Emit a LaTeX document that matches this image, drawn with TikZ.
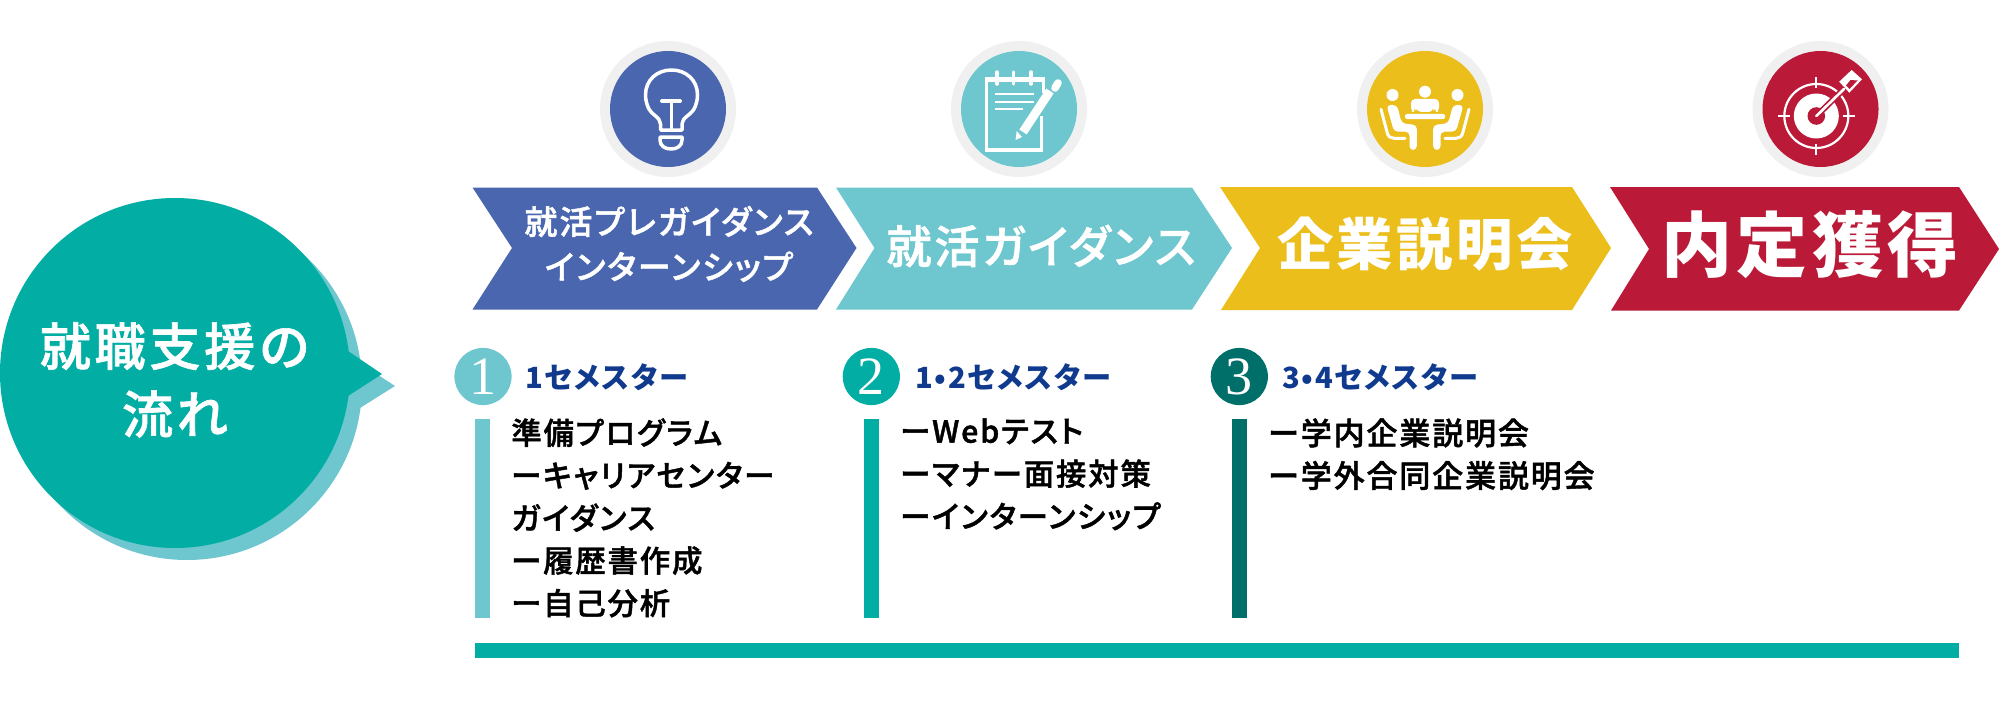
\documentclass[tikz,border=0pt]{standalone}
\usepackage{fontspec}
\usetikzlibrary{positioning}
\setmainfont{Noto Sans CJK JP}
\newfontfamily\jpwide[LetterSpace=6,RawFeature=+palt]{Noto Sans CJK JP}
\newfontfamily\jpmedium[LetterSpace=6,RawFeature=+palt,FakeBold=1.4]{Noto Sans CJK JP Medium}
\newfontfamily\jptitle[LetterSpace=7,FakeBold=1.2]{Noto Sans CJK JP Medium}
\newfontfamily\numfont{Liberation Serif}
\definecolor{bluefill}{HTML}{4A66AF}
\definecolor{skyfill}{HTML}{6EC6CE}
\definecolor{yellowfill}{HTML}{EBBE1C}
\definecolor{redfill}{HTML}{BA1A37}
\definecolor{tealfill}{HTML}{02AEA4}
\definecolor{darkteal}{HTML}{006E69}
\definecolor{ringgray}{HTML}{F0F0F0}
\definecolor{navytext}{HTML}{0F3A8D}
\tikzset{
  ring/.style={circle, fill=ringgray, minimum size=68pt, inner sep=0pt},
  disc/.style={circle, minimum size=58pt, inner sep=0pt},
  chevtext/.style={text=white, align=center, inner sep=0pt},
  badge/.style={circle, text=white, minimum size=28.6pt, inner sep=0pt, font=\numfont\fontsize{27}{27}\selectfont},
  semester/.style={text=navytext, anchor=west, inner sep=0pt, font=\jpwide\bfseries\fontsize{14.6}{14.6}\selectfont},
  itemlist/.style={anchor=north west, align=left, inner sep=0pt, font=\jpmedium\fontsize{15.2}{21.3}\selectfont},
  iconline/.style={draw=white, line width=1.75pt},
  thinline/.style={draw=white, line width=1.1pt}
}
\newcommand{\seated}{
  \fill[white] (1392.5,95) circle (6);
  \fill[white, rounded corners=2pt] (1386.5,105) -- (1397,105) -- (1401.7,123.3) -- (1416.8,125) -- (1416.8,150) -- (1409.5,150) -- (1409.5,131.7) -- (1394,131.7) -- cycle;
  \draw[thinline, line width=1.5pt, line cap=round] (1381,109.3) -- (1387,132) .. controls (1388,137) and (1391,138.3) .. (1394,138.3) -- (1405,138.3);
}
\begin{document}
\begin{tikzpicture}[x=0.5pt, y=-0.5pt]
\useasboundingbox (0,0) rectangle (2000,717);
\fill[skyfill] (187,385) circle (175);
\fill[skyfill] (360,363) -- (395,386) -- (360,408) -- cycle;
\fill[tealfill] (175,373) circle (175);
\fill[tealfill] (348,351) -- (382,374) -- (348,396) -- cycle;
\node[text=white, align=center, inner sep=0pt, font=\jptitle\fontsize{25.6}{34}\selectfont] (flow) at (175,380) {就職支援の\\流れ};

\node[ring] (ring1) at (668,109) {};
\node[ring] (ring2) at (1019,109) {};
\node[ring] (ring3) at (1425,109) {};
\node[ring] (ring4) at (1820.5,109) {};
\node[disc, fill=bluefill] (disc1) at (ring1) {};
\node[disc, fill=skyfill] (disc2) at (ring2) {};
\node[disc, fill=yellowfill] (disc3) at (ring3) {};
\node[disc, fill=redfill] (disc4) at (ring4) {};

\draw[iconline, line join=round] (660.5,130) -- (660.5,124) .. controls (660.5,117) and (651,115) .. (648,107) .. controls (646,102) and (645.5,98) .. (645.5,95) .. controls (645.5,80) and (657,70) .. (671.5,70) .. controls (686,70) and (697.5,80) .. (697.5,95) .. controls (697.5,98) and (697,102) .. (695,107) .. controls (692,115) and (682,117) .. (682,124) -- (682,130) -- cycle;
\draw[iconline, line cap=round, line width=2pt] (662,101) -- (680,101);
\draw[thinline, line width=1.5pt] (671,101) -- (671,130);
\draw[iconline, line join=round] (660,137) -- (682,137) -- (682,140) .. controls (682,146) and (677,149) .. (671,149) .. controls (665,149) and (660,146) .. (660,140) -- cycle;

\draw[iconline] (1043.5,93) -- (1043.5,79) -- (986.5,79) -- (986.5,150) -- (1041.7,150) -- (1041.7,116);
\draw[iconline, line width=2.4pt] (986.5,80) -- (1041.7,80);
\draw[iconline, line cap=round] (997,72) -- (997,84);
\draw[iconline, line cap=round] (1013.6,72) -- (1013.6,84);
\draw[iconline, line cap=round] (1031,72) -- (1031,84);
\draw[thinline] (995,94.3) -- (1034,94.3);
\draw[thinline] (995,102) -- (1034,102);
\draw[thinline] (995,109.3) -- (1023,109.3);
\draw[draw=white, line width=4.4pt] (1023,132) -- (1050,91);
\draw[draw=white, line width=3.8pt, line cap=round] (1055,88) -- (1058,83);
\fill[white] (1015.5,140) -- (1016.7,131) -- (1022,137) -- cycle;

\fill[white] (1425,91.7) circle (6);
\fill[white, rounded corners=2pt] (1411,112) -- (1411,99) -- (1439,99) -- (1439,112) -- (1435,112) -- (1435,107) -- (1433,107) -- (1433,112) -- (1417,112) -- (1417,107) -- (1415,107) -- (1415,112) -- cycle;
\fill[white, rounded corners=1pt] (1405,114) rectangle (1445,119);
\seated
\begin{scope}[shift={(2850,0)}, xscale=-1]
\seated
\end{scope}

\draw[thinline] (1816.3,116) circle (32);
\fill[white] (1816.3,116) circle (22.5);
\fill[redfill] (1816.3,116) circle (8.8);
\draw[thinline] (1778,116) -- (1790,116);
\draw[thinline] (1842.5,116) -- (1855,116);
\draw[thinline] (1816.3,77) -- (1816.3,88);
\draw[thinline] (1816.3,144) -- (1816.3,155);
\draw[draw=redfill, line width=3pt] (1816.3,116) -- (1844,89);
\draw[draw=white, line width=1.3pt, line cap=round] (1816.3,116) -- (1844,89);
\fill[white] (1851.6,70) -- (1862,79.3) -- (1849.3,92.7) -- (1839.2,81.7) -- cycle;
\fill[redfill] (1850.5,80) -- (1857.5,80.5) -- (1849.5,89) -- (1846,85.5) -- cycle;

\fill[bluefill] (472.5,187.5) -- (817,187.5) -- (856.5,248) -- (817,309.5) -- (472.5,309.5) -- (512,248) -- cycle;
\fill[skyfill] (836,187.5) -- (1192,187.5) -- (1232,248) -- (1192,309.5) -- (836,309.5) -- (874.5,248) -- cycle;
\fill[yellowfill] (1220,187) -- (1572,187) -- (1611,248) -- (1572,310) -- (1221,310) -- (1260,248) -- cycle;
\fill[redfill] (1610,187) -- (1959,187) -- (1999,249) -- (1959,310.5) -- (1611,310.5) -- (1649,249) -- cycle;
\node[chevtext, font=\jpmedium\fontsize{16.5}{22.5}\selectfont] (step1) at (669,244) {就活プレガイダンス\\インターンシップ};
\node[chevtext, font=\jpmedium\fontsize{22.6}{22.6}\selectfont] (step2) at (1041,246) {就活ガイダンス};
\node[chevtext, font=\jpwide\bfseries\fontsize{28.2}{28.2}\selectfont] (step3) at (1425,244) {企業説明会};
\node[chevtext, font=\jpwide\bfseries\fontsize{35.5}{35.5}\selectfont] (step4) at (1810,245) {内定獲得};

\node[badge, fill=skyfill] (badge1) at (483,376.5) {1};
\node[badge, fill=tealfill] (badge2) at (871.3,376.5) {2};
\node[badge, fill=darkteal] (badge3) at (1239.3,376.5) {3};
\node[semester] (sem1) at (525,377) {1セメスター};
\node[semester] (sem2) at (915,377) {1•2セメスター};
\node[semester] (sem3) at (1282,377) {3•4セメスター};

\fill[skyfill] (475,419) rectangle (490,618);
\fill[tealfill] (864.3,419) rectangle (878.7,618);
\fill[darkteal] (1231.7,419) rectangle (1246.7,618);
\fill[tealfill] (475,643) rectangle (1959,658);

\node[itemlist] (list1) at (511,418) {準備プログラム\\ーキャリアセンター\\ガイダンス\\ー履歴書作成\\ー自己分析};
\node[itemlist] (list2) at (900,418) {ーWebテスト\\ーマナー面接対策\\ーインターンシップ};
\node[itemlist, font=\jpmedium\fontsize{15.5}{21.3}\selectfont] (list3) at (1268,418) {ー学内企業説明会\\ー学外合同企業説明会};
\end{tikzpicture}
\end{document}
